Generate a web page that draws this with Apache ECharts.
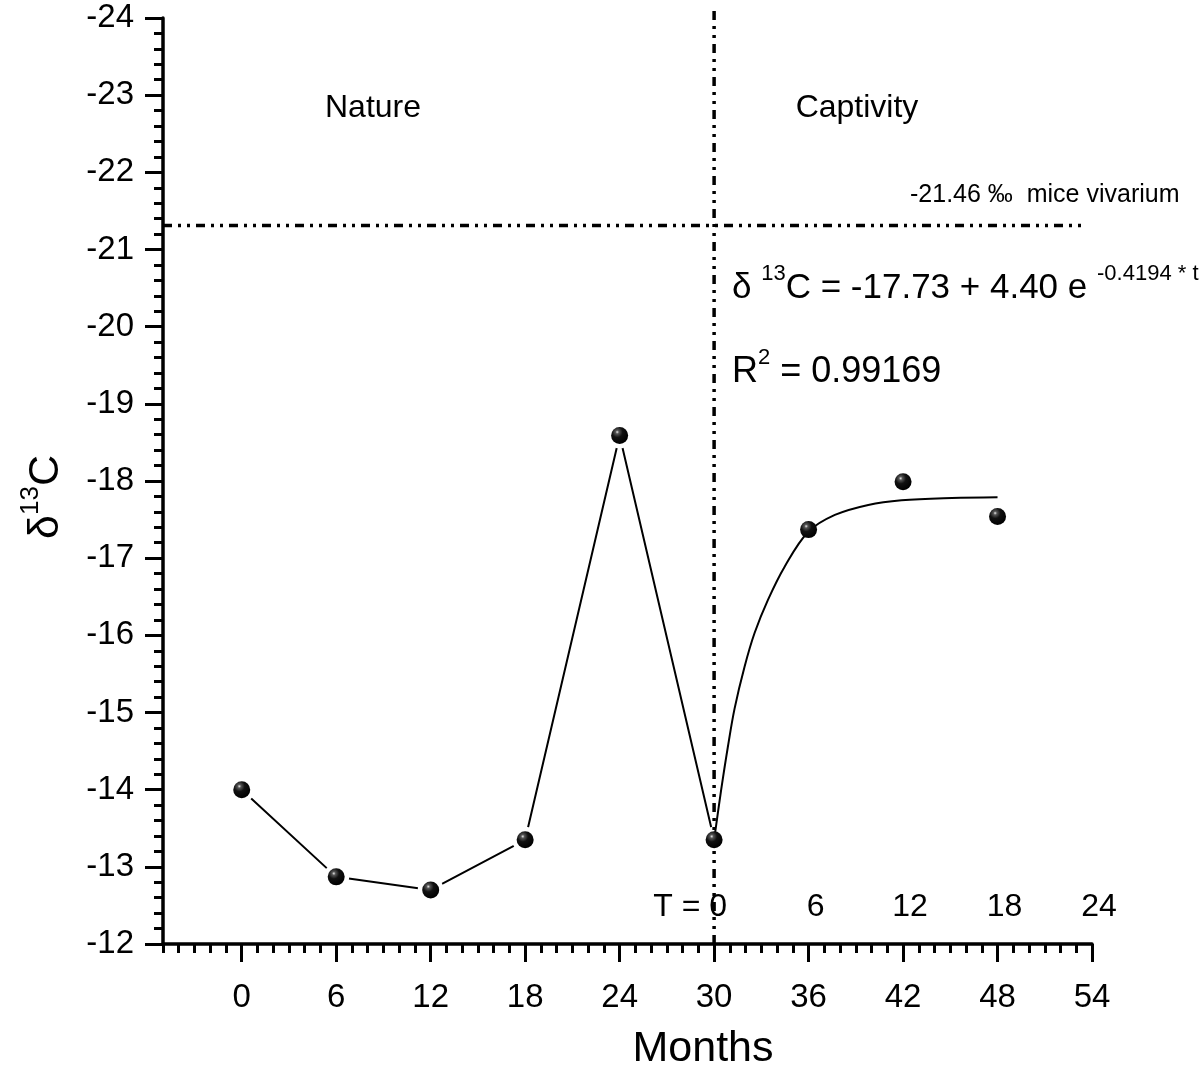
<!DOCTYPE html>
<html><head><meta charset="utf-8">
<script src="https://cdn.jsdelivr.net/npm/echarts@6/dist/echarts.min.js"></script>
<style>html,body{margin:0;padding:0;background:#fff}#c{width:1200px;height:1067px}</style>
</head><body><div id="c"></div>
<script>
// ---- data ----
const months = [0, 6, 12, 18, 24, 30, 36, 42, 48];
const d13C = [-14.0, -12.87, -12.70, -13.35, -18.59, -13.35, -17.37, -17.99, -17.54];
const natureCount = 6; // points joined by straight segments (0..30)
const fitMonths = [30, 30.45, 30.87, 31.3, 31.93, 32.57, 33.42, 34.48, 35.97, 37.67, 39.79, 41.9, 45.1, 48];
const fitValues = [-13.35, -14.0, -14.55, -15.05, -15.59, -16.03, -16.46, -16.89, -17.34, -17.56, -17.69, -17.75, -17.78, -17.79];
const xMajorTicks = [0, 6, 12, 18, 24, 30, 36, 42, 48, 54];
const tTickMonths = [30, 36, 42, 48, 54];
const tTickLabels = ['T = 0', '6', '12', '18', '24'];
const vivariumLevel = -21.31;
const vivariumEnd = 53.3;
const captivityStart = 30;
const verticalTop = -24.14;

const FONT = '"Liberation Sans", Arial, sans-serif';
const chart = echarts.init(document.getElementById('c'), null, {renderer: 'canvas'});

const sphere = {
  type: 'radial', x: 0.36, y: 0.3, r: 0.7,
  colorStops: [
    {offset: 0, color: '#e8e8e8'},
    {offset: 0.15, color: '#555'},
    {offset: 0.45, color: '#111'},
    {offset: 1, color: '#000'}
  ]
};
const dash = [9, 6, 3, 6, 3, 6];

const pts = months.map((m, i) => [m, d13C[i]]);
const fit = fitMonths.map((m, i) => [m, fitValues[i]]);
const tPts = tTickMonths.map((m, i) => ({
  value: [m, -12.48],
  label: i === 0 ? {offset: [-24, 0]} : {offset: [7, 0]}
}));

const option = {
  animation: false,
  backgroundColor: '#fff',
  grid: {left: 163, right: 108, top: 18, bottom: 123, containLabel: false},
  xAxis: [
    {
      type: 'value', min: -5, max: 54, interval: 1,
      axisLine: {show: true, onZero: false, lineStyle: {color: '#000', width: 3.5}},
      axisTick: {show: true, length: 9, lineStyle: {color: '#000', width: 3}},
      axisLabel: {show: false},
      splitLine: {show: false}
    },
    {
      type: 'value', min: -5, max: 54, position: 'bottom',
      axisLine: {show: false, onZero: false},
      axisTick: {show: true, customValues: xMajorTicks, length: 18, lineStyle: {color: '#000', width: 3}},
      axisLabel: {show: true, customValues: xMajorTicks, margin: 37, fontSize: 33, color: '#000', fontFamily: FONT},
      splitLine: {show: false}
    }
  ],
  yAxis: {
    type: 'value', min: -24, max: -12, interval: 1, inverse: true,
    axisLine: {show: true, onZero: false, lineStyle: {color: '#000', width: 3.5}},
    axisTick: {show: true, length: 18, lineStyle: {color: '#000', width: 3}},
    minorTick: {show: true, splitNumber: 5, length: 9, lineStyle: {color: '#000', width: 3}},
    axisLabel: {margin: 29, fontSize: 33, color: '#000', fontFamily: FONT},
    splitLine: {show: false}
  },
  series: [
    {
      name: 'nature', type: 'line', xAxisIndex: 0, yAxisIndex: 0,
      data: pts.slice(0, natureCount),
      symbol: 'circle', symbolSize: 26,
      itemStyle: {color: '#fff', borderWidth: 0, opacity: 1},
      lineStyle: {color: '#000', width: 2},
      z: 2, silent: true
    },
    {
      name: 'fit', type: 'line', data: fit, smooth: 0.35,
      symbol: 'none', lineStyle: {color: '#000', width: 2}, z: 3, silent: true
    },
    {
      name: 'vivarium', type: 'line', data: [[-5, vivariumLevel], [vivariumEnd, vivariumLevel]],
      symbol: 'none', lineStyle: {color: '#000', width: 3.5, type: dash}, z: 4, silent: true
    },
    {
      name: 'captivity', type: 'line', data: [[captivityStart, -12], [captivityStart, verticalTop]],
      symbol: 'none', clip: false, lineStyle: {color: '#000', width: 3.5, type: dash}, z: 4, silent: true
    },
    {
      name: 'points', type: 'scatter', data: pts, symbol: 'circle', symbolSize: 17,
      itemStyle: {color: sphere, opacity: 1}, z: 6, silent: true
    },
    {
      name: 'T axis', type: 'scatter', data: tPts, symbolSize: 1, clip: false,
      itemStyle: {color: 'rgba(0,0,0,0)', opacity: 1}, z: 5, silent: true,
      label: {
        show: true, position: 'inside', color: '#000', opacity: 1, fontSize: 32, fontFamily: FONT,
        formatter: p => tTickLabels[p.dataIndex]
      }
    }
  ],
  graphic: [
    {type: 'text', x: 373, y: 108, style: {text: 'Nature', font: '32px ' + FONT, fill: '#000', textAlign: 'center', textVerticalAlign: 'middle'}},
    {type: 'text', x: 857, y: 108, style: {text: 'Captivity', font: '32px ' + FONT, fill: '#000', textAlign: 'center', textVerticalAlign: 'middle'}},
    {type: 'text', x: 910, y: 195, style: {text: '-21.46 \u2030  mice vivarium', font: '25px ' + FONT, fill: '#000', textAlign: 'left', textVerticalAlign: 'middle'}},
    {type: 'text', x: 732, y: 288, style: {
      text: '{m|\u03b4 }{s|13}{m|C = -17.73 + 4.40 e }{e|-0.4194 * t}',
      textAlign: 'left', textVerticalAlign: 'middle', fill: '#000',
      rich: {
        m: {fontSize: 35, fontFamily: FONT, lineHeight: 50, fill: '#000', color: '#000'},
        s: {fontSize: 22, fontFamily: FONT, lineHeight: 22, verticalAlign: 'top', fill: '#000', color: '#000'},
        e: {fontSize: 22, fontFamily: FONT, lineHeight: 20, verticalAlign: 'top', fill: '#000', color: '#000'}
      }
    }},
    {type: 'text', x: 732, y: 372, style: {
      text: '{m|R}{s|2}{m| = 0.99169}',
      textAlign: 'left', textVerticalAlign: 'middle', fill: '#000',
      rich: {
        m: {fontSize: 36, fontFamily: FONT, lineHeight: 50, fill: '#000', color: '#000'},
        s: {fontSize: 22, fontFamily: FONT, lineHeight: 22, verticalAlign: 'top', fill: '#000', color: '#000'}
      }
    }},
    {type: 'text', x: 703, y: 1049, style: {text: 'Months', font: '43px ' + FONT, fill: '#000', textAlign: 'center', textVerticalAlign: 'middle'}},
    {type: 'text', x: 46, y: 497, rotation: Math.PI / 2, style: {
      text: '{m|\u03b4}{s|13}{m|C}',
      textAlign: 'center', textVerticalAlign: 'middle', fill: '#000',
      rich: {
        m: {fontSize: 43, fontFamily: FONT, lineHeight: 56, fill: '#000', color: '#000'},
        s: {fontSize: 26, fontFamily: FONT, lineHeight: 26, verticalAlign: 'top', fill: '#000', color: '#000'}
      }
    }}
  ]
};
chart.setOption(option);
</script>
</body></html>
